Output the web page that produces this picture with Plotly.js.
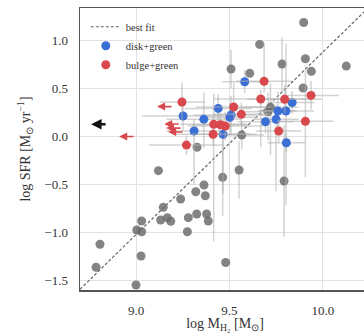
<!DOCTYPE html>
<html>
<head>
<meta charset="utf-8">
<script src="https://cdn.plot.ly/plotly-3.0.1.min.js"></script>
<style>
html,body{margin:0;padding:0;background:#fff;overflow:hidden;width:364px;height:333px;}
#chart{width:380px;height:333px;}
</style>
</head>
<body>
<div id="chart"></div>
<script>
// ---- data ----
const fitX = [8.70, 10.30];
const fitY = [-1.59, 1.45];

const grayX = [9.12, 9.464, 9.364, 9.32, 9.371, 9.239, 9.146, 9.03, 9.132, 9.168, 9.186, 9.28, 9.325, 9.378, 9.387, 9.004, 9.03, 9.275, 8.807, 9.027, 8.786, 9.0, 9.48, 9.566, 9.552, 9.793, 9.898, 9.662, 9.782, 9.907, 9.939, 10.126, 9.509, 9.609, 9.895, 9.72, 9.707, 9.327];
const grayY = [-0.354, -0.423, -0.503, -0.573, -0.615, -0.649, -0.735, -0.878, -0.868, -0.843, -0.881, -0.843, -0.805, -0.805, -0.878, -0.972, -0.99, -0.99, -1.12, -1.243, -1.36, -1.545, -1.31, 0.018, -0.347, -0.461, 1.19, 0.962, 0.757, 0.812, 0.681, 0.736, 0.705, 0.66, 0.507, 0.306, 0.26, -0.11];
const grayXerr = [0, 0, 0, 0, 0, 0, 0, 0, 0, 0, 0, 0, 0, 0, 0, 0, 0, 0, 0, 0, 0, 0, 0, 0.12, 0, 0, 0, 0, 0, 0, 0, 0, 0, 0, 0, 0.15, 0.12, 0];
const grayYerrP = [0, 0.4, 0, 0, 0, 0, 0, 0, 0, 0, 0, 0, 0, 0, 0, 0, 0, 0, 0, 0, 0, 0, 0, 0.15, 0.3, 0.58, 0, 0, 0.28, 0, 0, 0, 0.2, 0, 0, 0.25, 0.2, 0];
const grayYerrM = [0, 0.4, 0, 0, 0, 0, 0, 0, 0, 0, 0, 0, 0, 0, 0, 0, 0, 0, 0, 0, 0, 0, 0, 0.15, 0.3, 0.58, 0, 0, 0.28, 0, 0, 0, 0.2, 0, 0, 0.5, 0.3, 0];

const diskX = [9.582, 9.44, 9.509, 9.502, 9.363, 9.252, 9.311, 9.466, 9.693, 9.75, 9.76, 9.803, 9.836, 9.805];
const diskY = [0.573, 0.295, 0.226, 0.202, 0.181, 0.216, 0.059, 0.025, 0.156, 0.181, 0.268, 0.268, 0.357, -0.063];
const diskXerr = [0.12, 0.18, 0.2, 0.15, 0.2, 0.22, 0.15, 0.18, 0.15, 0.12, 0.1, 0.15, 0.12, 0.1];
const diskYerrP = [0.12, 0.15, 0.2, 0.15, 0.28, 0.15, 0.12, 0.15, 0.12, 0.15, 0.2, 0.7, 0.12, 0.1];
const diskYerrM = [0.12, 0.15, 0.2, 0.15, 0.3, 0.15, 0.56, 0.62, 0.12, 0.75, 0.2, 0.98, 0.12, 0.1];

const bulgeX = [9.686, 9.668, 9.796, 9.937, 9.523, 9.564, 9.416, 9.452, 9.478, 9.413, 9.907, 9.764, 9.27, 9.246];
const bulgeY = [0.577, 0.393, 0.39, 0.43, 0.31, 0.233, 0.129, 0.125, 0.111, 0.025, 0.16, 0.059, -0.087, 0.362];
const bulgeXerr = [0.15, 0.25, 0.2, 0.15, 0.2, 0.15, 0.18, 0.15, 0.2, 0.2, 0.15, 0.12, 0.2, 0.12];
const bulgeYerrP = [0.4, 0.1, 0.15, 0.15, 0.25, 0.12, 0.32, 0.12, 0.15, 0.12, 0.58, 0.12, 0.1, 0.2];
const bulgeYerrM = [0.12, 0.5, 0.15, 0.15, 0.12, 0.12, 1.22, 0.12, 0.15, 0.12, 0.58, 0.12, 0.1, 0.2];

// upper limits in M_H2 (arrow tails at the limit, pointing left)
const limRedX = [9.198, 9.236, 9.246, 9.257, 8.995];
const limRedY = [0.314, 0.133, 0.09, 0.049, 0.002];
const limBlackX = [8.845];
const limBlackY = [0.13];

// ---- styles ----
const ARROW_LEN = 0.085;
const RED = '#d9484d';
const BLUE = '#3a6fd6';
const GRAY = 'rgba(105,105,105,0.82)';
const ERRC = 'rgba(175,175,175,0.55)';
const FONT = 'Liberation Serif';

function errTrace(x, y, xe, yp, ym, color, name, show) {
  return {
    type: 'scatter', mode: 'markers', x: x, y: y, name: name, showlegend: show,
    marker: {color: color, size: 9, line: {width: 0}},
    error_x: {type: 'data', array: xe, symmetric: true, color: ERRC, thickness: 1.5, width: 0},
    error_y: {type: 'data', array: yp, arrayminus: ym, symmetric: false, color: ERRC, thickness: 1.5, width: 0}
  };
}

const traces = [
  {type: 'scatter', mode: 'lines', x: fitX, y: fitY, name: 'best fit',
   line: {color: '#666', width: 1.2, dash: '3px,2px'}},
  errTrace(grayX, grayY, grayXerr, grayYerrP, grayYerrM, GRAY, 'all', false),
  errTrace(diskX, diskY, diskXerr, diskYerrP, diskYerrM, BLUE, 'disk+green', true),
  errTrace(bulgeX, bulgeY, bulgeXerr, bulgeYerrP, bulgeYerrM, RED, 'bulge+green', true)
];

const annotations = [];
limRedX.forEach((x, i) => annotations.push({
  x: x - ARROW_LEN, y: limRedY[i], ax: x, ay: limRedY[i], xref: 'x', yref: 'y', axref: 'x', ayref: 'y',
  showarrow: true, arrowhead: 2, arrowsize: 1, arrowwidth: 1.6, arrowcolor: RED, text: ''
}));
limBlackX.forEach((x, i) => annotations.push({
  x: x - ARROW_LEN, y: limBlackY[i], ax: x, ay: limBlackY[i], xref: 'x', yref: 'y', axref: 'x', ayref: 'y',
  showarrow: true, arrowhead: 2, arrowsize: 0.8, arrowwidth: 2.6, arrowcolor: '#111', text: ''
}));

const layout = {
  width: 380, height: 333,
  margin: {l: 80, r: 10, t: 8, b: 43},
  paper_bgcolor: '#fff', plot_bgcolor: '#fff',
  font: {family: FONT, color: '#333', size: 12},
  showlegend: true,
  legend: {x: 0.02, y: 0.985, xanchor: 'left', yanchor: 'top', bgcolor: 'rgba(0,0,0,0)',
           font: {family: FONT, size: 10.5, color: '#333'}, itemwidth: 30, tracegroupgap: 0},
  xaxis: {
    range: [8.70, 10.253], tickvals: [9.0, 9.5, 10.0], ticktext: ['9.0', '9.5', '10.0'],
    showgrid: true, gridcolor: '#e2e2e2', gridwidth: 1, zeroline: false,
    showline: true, linecolor: '#555', linewidth: 1.5, mirror: true,
    ticks: '', ticklabelstandoff: 8, tickfont: {family: FONT, size: 13, color: '#333'},
    title: {text: 'log M<sub>H₂</sub> [M<sub>⊙</sub>]', font: {family: FONT, size: 14, color: '#333'}, standoff: 8}
  },
  yaxis: {
    range: [-1.597, 1.341], tickvals: [-1.5, -1.0, -0.5, 0.0, 0.5, 1.0],
    ticktext: ['−1.5', '−1.0', '−0.5', '0.0', '0.5', '1.0'],
    showgrid: true, gridcolor: '#e2e2e2', gridwidth: 1, zeroline: false,
    showline: true, linecolor: '#555', linewidth: 1.5, mirror: true,
    ticks: '', ticklabelstandoff: 8, tickfont: {family: FONT, size: 13, color: '#333'},
    title: {text: 'log SFR [M<sub>⊙</sub> yr<sup>−1</sup>]', font: {family: FONT, size: 14, color: '#333'}, standoff: 10}
  },
  annotations: annotations
};

Plotly.newPlot('chart', traces, layout, {staticPlot: true, displayModeBar: false});
</script>
</body>
</html>
